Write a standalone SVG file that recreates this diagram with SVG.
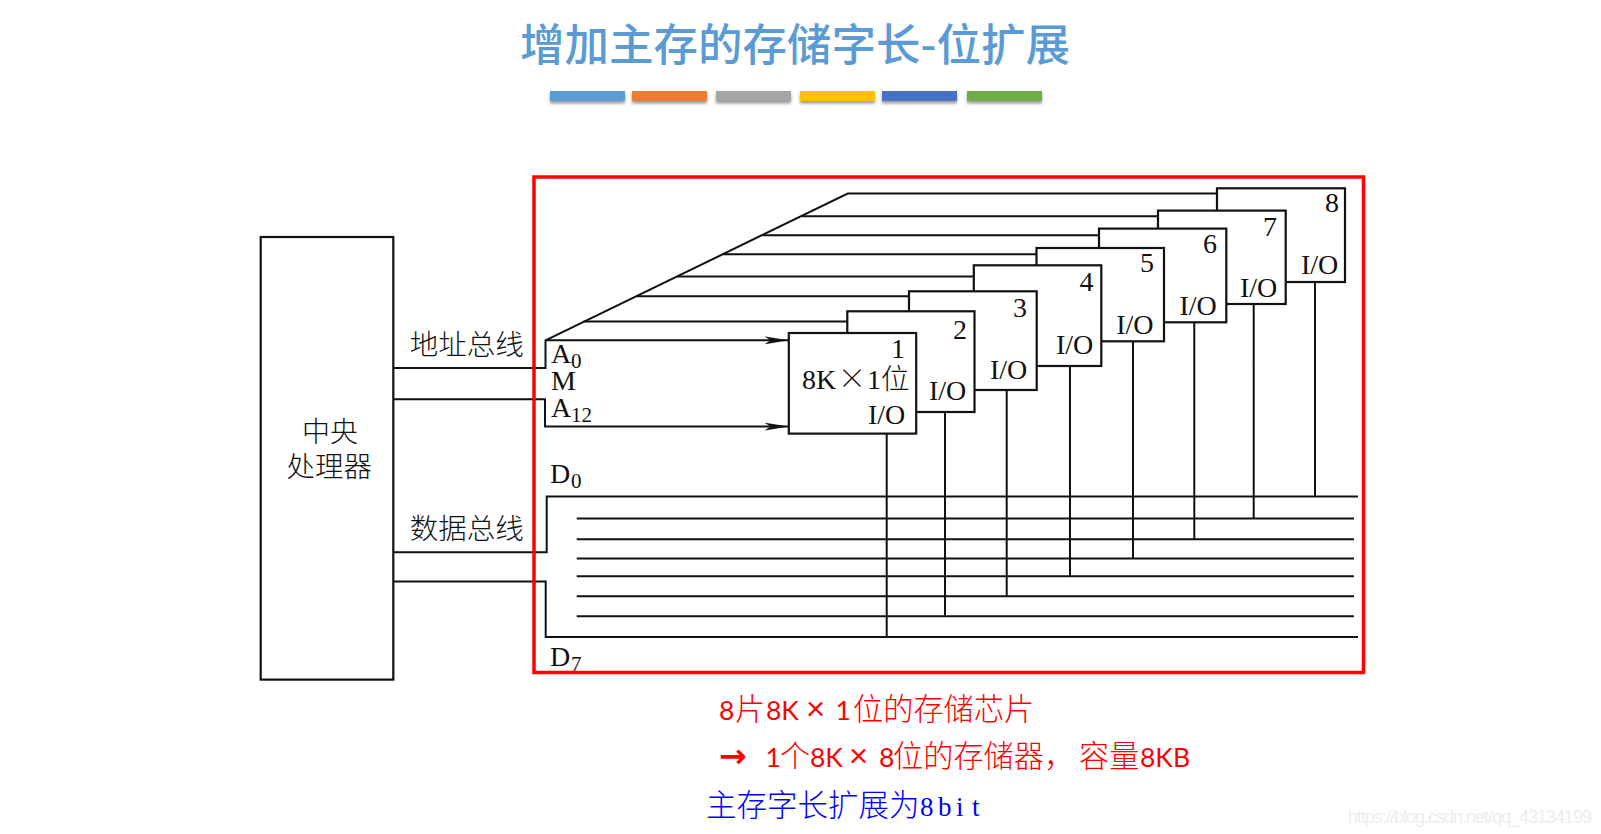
<svg xmlns="http://www.w3.org/2000/svg" width="1601" height="834" viewBox="0 0 1601 834">
<style>
text{font-family:"Liberation Serif","Noto Sans CJK SC",serif;font-size:28px;fill:#111}
.cjk{font-family:"Noto Sans CJK SC","Liberation Serif",serif;font-weight:300}
.sub{font-size:21px}
.box{fill:#fff;stroke:#111;stroke-width:2.2}
.w{fill:none;stroke:#111;stroke-width:2}
.red{font-family:"Lato","Noto Sans CJK SC",sans-serif;font-size:26.500px;fill:#f00}
.red .c{font-family:"Noto Sans CJK SC",sans-serif;font-weight:300;font-size:30.200px}
.red .x{font-size:33px}
</style>
<defs>
<marker id="arr" markerUnits="userSpaceOnUse" viewBox="0 0 24 10" markerWidth="24" markerHeight="10" refX="24" refY="5" orient="auto"><path d="M0 1L24 5L0 9L6 5z" fill="#111"/></marker>
<filter id="sh" x="-10%" y="-50%" width="120%" height="220%"><feDropShadow dx="0" dy="2.5" stdDeviation="1.6" flood-color="#000" flood-opacity=".4"/></filter>
</defs>
<rect width="1601" height="834" fill="#fff"/>
<g id="title">
<text class="cjk" x="520" y="60.500" style="font-size:44.500px;fill:#5b9bd5;font-weight:500" textLength="550" lengthAdjust="spacing">增加主存的存储字长-位扩展</text>
<g filter="url(#sh)">
<rect x="550" y="91" width="75" height="10" fill="#5b9bd5"/>
<rect x="632" y="91" width="75" height="10" fill="#ed7d31"/>
<rect x="716" y="91" width="75" height="10" fill="#a5a5a5"/>
<rect x="800" y="91" width="75" height="10" fill="#ffc000"/>
<rect x="882" y="91" width="75" height="10" fill="#4472c4"/>
<rect x="967" y="91" width="75" height="10" fill="#70ad47"/>
</g>
</g>
<g id="connectors" class="w">
<path class="w" d="M393 368H545.500V340.300L847.700 193.600H1217"/>
<path class="w" d="M801.700 216.300H1158M762.300 235.300H1099M723.300 254.300H1036M676.700 276.600H973M636.700 296.300H909M583.300 321.600H847"/>
<path class="w" d="M545.500 340.300H788.500" marker-end="url(#arr)"/>
<path class="w" d="M393 399.300H545V426.600H788.500" marker-end="url(#arr)"/>
<path class="w" d="M393 552.300H546.700V496.600H1358"/>
<path class="w" d="M393 581.600H545.700V637H1358"/>
<path class="w" d="M576.700 518.600H1354M576.700 539.300H1354M576.700 558.600H1354M576.700 576.300H1354M576.700 596.300H1354M576.700 616.300H1354"/>
<path class="w" d="M886.700 433V637M945 411.700V616.300M1006.700 389.700V596.300M1070 365.700V576.300M1133 341V558.600M1194.300 322V539.300M1253.700 303.700V518.600M1315 281.700V496.600"/>
</g>
<g id="cpu">
<rect class="box" x="260.700" y="237" width="132.600" height="442.600"/>
<text class="cjk" x="302" y="441.500" style="font-size:28px">中央</text>
<text class="cjk" x="286.500" y="476.500" style="font-size:28.500px">处理器</text>
</g>
<g id="bus-labels">
<text class="cjk" x="409.700" y="354.500" style="font-size:28.500px">地址总线</text>
<text class="cjk" x="409.700" y="539" style="font-size:28.500px">数据总线</text>
<text x="551" y="362.700">A<tspan class="sub" x="571" y="368">0</tspan></text>
<text x="551" y="390">M</text>
<text x="551" y="416.700">A<tspan class="sub" x="571" y="422">12</tspan></text>
<text x="550" y="483.300">D<tspan class="sub" x="571" y="488.300">0</tspan></text>
<text x="550" y="666">D<tspan class="sub" x="571" y="671">7</tspan></text>
</g>
<g id="chip8"><rect class="box" x="1217" y="188.300" width="128" height="93.700"/><text x="1325" y="212">8</text><text x="1301" y="274.300">I/O</text></g>
<g id="chip7"><rect class="box" x="1158" y="210.600" width="127.700" height="93.400"/><text x="1263" y="236">7</text><text x="1240" y="297">I/O</text></g>
<g id="chip6"><rect class="box" x="1099" y="228.600" width="127.300" height="93.700"/><text x="1203" y="252.600">6</text><text x="1179.500" y="314.600">I/O</text></g>
<g id="chip5"><rect class="box" x="1036.500" y="248" width="127.500" height="93.300"/><text x="1140" y="272">5</text><text x="1116.200" y="333.600">I/O</text></g>
<g id="chip4"><rect class="box" x="973.800" y="265.300" width="127.500" height="100.700"/><text x="1079.500" y="291">4</text><text x="1056" y="353.600">I/O</text></g>
<g id="chip3"><rect class="box" x="909" y="291.300" width="127.700" height="98.700"/><text x="1013" y="317">3</text><text x="990" y="378.600">I/O</text></g>
<g id="chip2"><rect class="box" x="847.300" y="311.300" width="127.200" height="100.700"/><text x="953" y="338.600">2</text><text x="929" y="400.300">I/O</text></g>
<g id="chip1"><rect class="box" x="788.800" y="333" width="127.400" height="100.600"/><text x="891" y="358.300">1</text>
<text x="802" y="389.300">8K</text><text class="cjk" x="838" y="389.300">×</text><text x="867" y="389.300">1</text><text class="cjk" x="881" y="389.300" style="font-size:28.500px">位</text>
<text x="868" y="423.600">I/O</text></g>
<g id="selection"><rect x="534" y="177" width="829.500" height="495.500" fill="none" stroke="#f00" stroke-width="3.500"/></g>
<g id="notes">
<text class="red" x="719" y="720"><tspan>8</tspan><tspan class="c" x="735">片</tspan><tspan x="766">8K </tspan><tspan class="x" x="806">× </tspan><tspan x="835.500">1</tspan><tspan class="c" x="853">位的存储芯片</tspan></text>
<text x="719" y="767" style="font-family:'DejaVu Sans',sans-serif;font-size:33px;font-weight:700;fill:#f00">→</text>
<text class="red" x="765.400" y="767"><tspan>1</tspan><tspan class="c" x="780">个</tspan><tspan x="810">8K </tspan><tspan class="x" x="849">× </tspan><tspan x="879">8</tspan><tspan class="c" x="893">位的存储器，</tspan><tspan class="c" x="1079">容量</tspan><tspan x="1140">8KB</tspan></text>
<text class="cjk" x="706" y="816" style="font-size:30.500px;fill:#00f">主存字长扩展为<tspan x="920 938 956 972" style="font-family:'Liberation Serif',serif;font-size:27px;font-weight:400">8bit</tspan></text>
</g>
<text id="watermark" x="1348" y="823" textLength="244" style="font-family:'Liberation Sans',sans-serif;font-size:18px;fill:#ededed">https://blog.csdn.net/qq_43134199</text>
</svg>
